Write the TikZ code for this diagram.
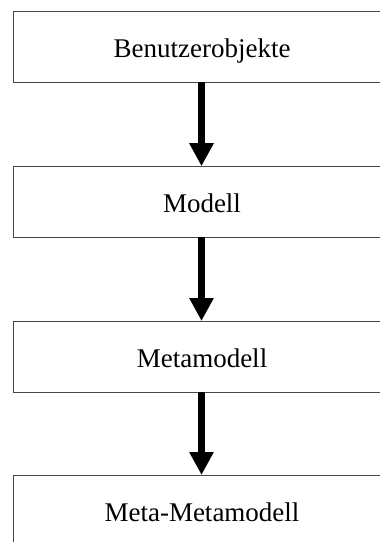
\documentclass[tikz,border=0pt]{standalone}
\usepackage{fontspec}
\setmainfont{Liberation Serif}
\usetikzlibrary{arrows.meta}
\begin{document}
\begin{tikzpicture}[x=1pt,y=-1pt,
  levelbox/.style={draw=black!72, line width=1pt, fill=white, rectangle,
    minimum width=378pt, minimum height=71pt, outer sep=0pt, inner sep=0pt,
    text height=21pt, text depth=0pt,
    font=\fontsize{27}{32}\selectfont},
  flow/.style={line width=7pt, -{Triangle[width=23pt,length=23pt]}}]
  \useasboundingbox (0,0) rectangle (380,542);
  \clip (0,0) rectangle (380,542);
  \node[levelbox] (user) at (202,46.5) {Benutzerobjekte};
  \node[levelbox] (model) at (202,201.7) {Modell};
  \node[levelbox] (meta) at (202,356.5) {Metamodell};
  \node[levelbox] (metameta) at (202,510.5) {Meta-Metamodell};
  \draw[flow] ([xshift=-0.5pt]user.south) -- ([xshift=-0.5pt]model.north);
  \draw[flow] ([xshift=-0.5pt]model.south) -- ([xshift=-0.5pt]meta.north);
  \draw[flow] ([xshift=-0.5pt]meta.south) -- ([xshift=-0.5pt]metameta.north);
\end{tikzpicture}
\end{document}
